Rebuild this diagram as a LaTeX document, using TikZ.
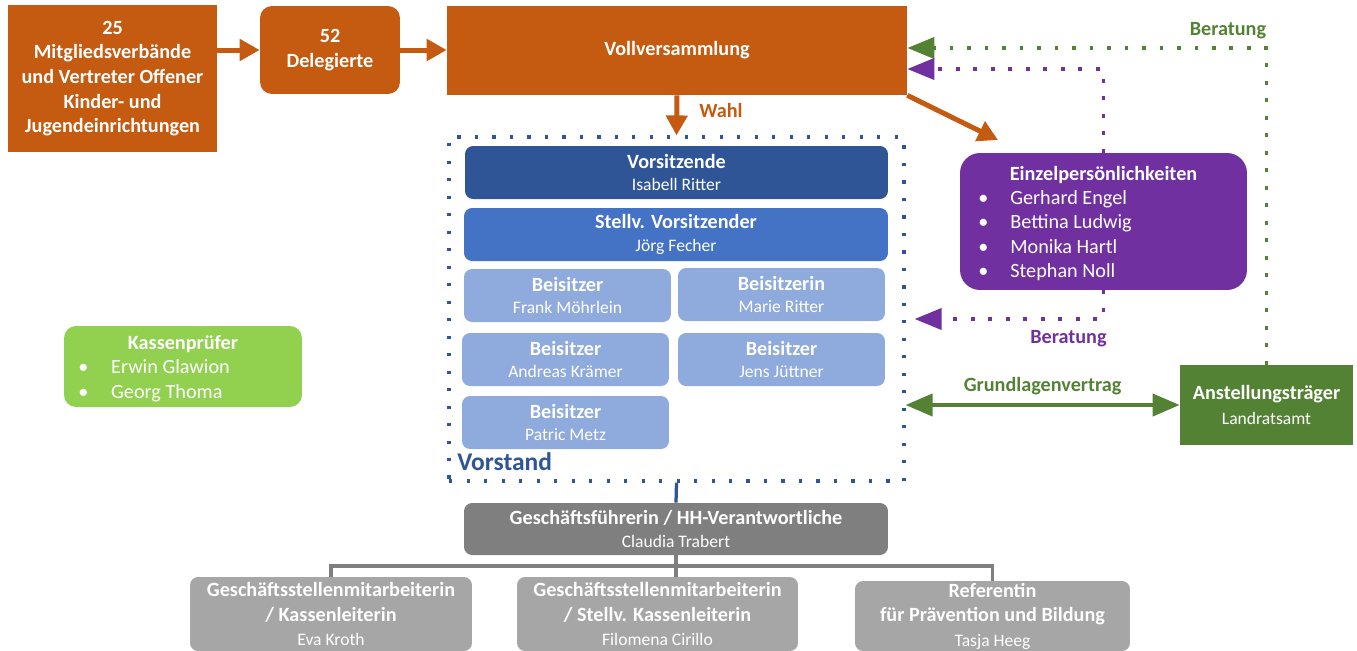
\documentclass[tikz,border=0pt]{standalone}
\usepackage{fontspec}
\setmainfont{Carlito}
\usepackage{tikz}
\usetikzlibrary{arrows.meta,positioning}

\definecolor{vvorange}{HTML}{C55A11}
\definecolor{vsdark}{HTML}{2F5597}
\definecolor{vsmid}{HTML}{4472C4}
\definecolor{vslight}{HTML}{8FAADC}
\definecolor{epurple}{HTML}{7030A0}
\definecolor{agreen}{HTML}{548235}
\definecolor{kgreen}{HTML}{92D050}
\definecolor{gfgray}{HTML}{7F7F7F}
\definecolor{magray}{HTML}{A6A6A6}

\newcommand{\persname}[1]{{\mdseries\fontsize{10}{12}\selectfont #1}}

\begin{document}
\begin{tikzpicture}[x=0.02cm,y=-0.02cm,
    box/.style={inner sep=0pt, align=center, text=white,
      font=\bfseries\fontsize{11.5}{14}\selectfont},
    roundbox/.style={box, rounded corners=0.16cm},
    tiplabel/.style={inner sep=0pt, font=\bfseries\fontsize{11.5}{14}\selectfont},
    orangearrow/.style={draw=vvorange, line width=0.1cm,
      -{Triangle[length=0.4cm,width=0.42cm]}},
    dotline/.style={line width=0.075cm, dash pattern=on 0.075cm off 0.275cm,
      -{Triangle[length=0.54cm,width=0.42cm]}}]
  \useasboundingbox (0,0) rectangle (1357,650);

  %Top row
  \begin{scope}[every node/.style={box, fill=vvorange}]
    \node[minimum width=4.18cm, minimum height=2.94cm] (mitglied) at (112.5,78.5)
      {25\\Mitgliedsverbände\\und Vertreter Offener\\Kinder- und\\Jugendeinrichtungen};
    \node[rounded corners=0.24cm, minimum width=2.8cm, minimum height=1.76cm] (delegierte) at (330,50)
      {52\\Delegierte};
    \node[minimum width=9.2cm, minimum height=1.78cm] (vollvers) at (677,50.5) {Vollversammlung};
  \end{scope}

  %Vorstand
  \node[draw=vsdark, line width=0.065cm, dash pattern=on 0.065cm off 0.285cm,
    minimum width=9.1cm, minimum height=6.88cm, inner sep=0pt] (vorstand) at (676.5,309) {};
  \begin{scope}[every node/.style={roundbox, minimum height=1.06cm,
      font=\bfseries\fontsize{11.5}{12.8}\selectfont}]
    \node[fill=vsdark, minimum width=8.46cm] (vorsitz) at (676.5,172.5)
      {Vorsitzende\\\persname{Isabell Ritter}};
    \node[fill=vsmid, minimum width=8.48cm] (stellv) at (676,234.5)
      {Stellv. Vorsitzender\\\persname{Jörg Fecher}};
    \node[fill=vslight, minimum width=4.14cm] (beis1) at (567.5,295.5)
      {Beisitzer\\\persname{Frank Möhrlein}};
    \node[fill=vslight, minimum width=4.14cm] (beis2) at (781.5,294.5)
      {Beisitzerin\\\persname{Marie Ritter}};
    \node[fill=vslight, minimum width=4.14cm] (beis3) at (565.5,359.5)
      {Beisitzer\\\persname{Andreas Krämer}};
    \node[fill=vslight, minimum width=4.14cm] (beis4) at (781.5,359.5)
      {Beisitzer\\\persname{Jens Jüttner}};
    \node[fill=vslight, minimum width=4.14cm] (beis5) at (565.5,422.5)
      {Beisitzer\\\persname{Patric Metz}};
  \end{scope}
  \node[anchor=west, text=vsdark, font=\bfseries\fontsize{14.5}{17}\selectfont, inner sep=0pt]
    (vorstandlabel) at (457,462) {Vorstand};

  %Geschaeftsstelle
  \begin{scope}[every node/.style={roundbox}]
    \node[fill=gfgray, minimum width=8.48cm, minimum height=1.04cm,
      font=\bfseries\fontsize{11.5}{12.8}\selectfont] (gf) at (676,529)
      {Geschäftsführerin / HH-Verantwortliche\\\persname{Claudia Trabert}};
    \node[fill=magray, minimum width=5.64cm, minimum height=1.48cm] (ma1) at (331,614)
      {Geschäftsstellenmitarbeiterin\\/ Kassenleiterin\\\persname{Eva Kroth}};
    \node[fill=magray, minimum width=5.62cm, minimum height=1.48cm] (ma2) at (657.5,614)
      {Geschäftsstellenmitarbeiterin\\/ Stellv. Kassenleiterin\\\persname{Filomena Cirillo}};
    \node[fill=magray, minimum width=5.5cm, minimum height=1.4cm] (ref) at (992.5,616)
      {Referentin\\für Prävention und Bildung\\\persname{Tasja Heeg}};
  \end{scope}

  %Einzelpersoenlichkeiten, Kassenpruefer, Anstellungstraeger
  \node[box, fill=epurple, rounded corners=0.4cm, minimum width=5.74cm, minimum height=2.74cm]
    (einzel) at (1103.5,221.5) {};
  \node[box] (einzeltitle) at (1103.5,175) {Einzelpersönlichkeiten};
  \node[anchor=west, inner sep=0pt, text=white, font=\fontsize{11.5}{13.9}\selectfont] (einzellist) at (978,236)
    {\begin{tabular}{@{}l@{\hspace{12.5pt}}l@{}}
      • & Gerhard Engel\\ • & Bettina Ludwig\\ • & Monika Hartl\\ • & Stephan Noll
    \end{tabular}};

  \node[box, fill=kgreen, rounded corners=0.24cm, minimum width=4.76cm, minimum height=1.62cm]
    (kassen) at (183,366.5) {};
  \node[box] (kassentitle) at (183,344) {Kassenprüfer};
  \node[anchor=west, inner sep=0pt, text=white, font=\fontsize{11.5}{13.9}\selectfont] (kassenlist) at (78,381)
    {\begin{tabular}{@{}l@{\hspace{13pt}}l@{}}
      • & Erwin Glawion\\ • & Georg Thoma
    \end{tabular}};

  \node[box, fill=agreen, minimum width=3.46cm, minimum height=1.6cm] (anstellung) at (1266.5,405)
    {Anstellungsträger\\\persname{Landratsamt}};

  %Connections
  \coordinate (einzeltip) at (998,140);
  \coordinate (gfbar) at (676,566);
  \draw[orangearrow] (mitglied.east |- delegierte.west) -- (delegierte.west);
  \draw[orangearrow] (delegierte.east) -- (vollvers.west |- delegierte.east);
  \draw[orangearrow] (vollvers.south) -- (vorstand.north)
    node[pos=0.38, right=0.4cm, text=vvorange, tiplabel] (wahl) {Wahl};
  \draw[orangearrow] (vollvers.south east) -- (einzeltip);

  \draw[dotline, draw=agreen] (anstellung.north) |- ([yshift=0.05cm]vollvers.east)
    node[pos=0.5, anchor=south east, xshift=0.03cm, yshift=0.15cm, text=agreen, tiplabel] (beratung1) {Beratung};
  \draw[dotline, draw=epurple] (einzel.north) |- ([yshift=-0.37cm]vollvers.east);
  \draw[dotline, draw=epurple, shorten >=0.18cm] (einzel.south) |- ([yshift=-0.2cm]vorstand.east)
    node[pos=0.5, anchor=north east, xshift=0.1cm, yshift=-0.2cm, text=epurple, tiplabel] (beratung2) {Beratung};

  \draw[draw=agreen, line width=0.08cm, {Triangle[length=0.54cm,width=0.44cm]}-{Triangle[length=0.54cm,width=0.44cm]}]
    (vorstand.east |- anstellung.west) -- (anstellung.west)
    node[midway, above=0.16cm, text=agreen, tiplabel] (grundlagen) {Grundlagenvertrag};

  \draw[draw=vsdark, line width=0.065cm] (vorstand.south) -- (gf.north);
  \begin{scope}[every path/.style={draw=gfgray, line width=0.07cm}]
    \draw (gf.south) -- (gfbar) -| (ma1.north);
    \draw (gfbar) -| (ref.north);
    \draw (gfbar) -- (gfbar |- ma2.north);
  \end{scope}
\end{tikzpicture}
\end{document}
